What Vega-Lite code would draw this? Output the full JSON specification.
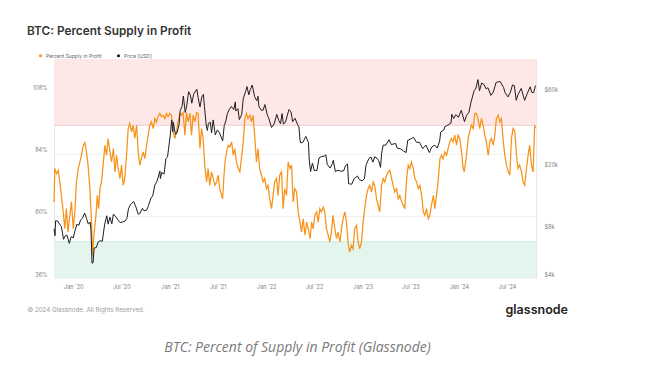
{
  "$schema": "https://vega.github.io/schema/vega-lite/v6.json",
  "width": 482,
  "height": 219,
  "autosize": {"type": "none"},
  "padding": {"left": 54, "top": 59, "right": 109, "bottom": 96},
  "background": "white",
  "title": {"text": "BTC: Percent Supply in Profit", "anchor": "start", "frame": "group", "dx": -27, "offset": 15, "font": "Inter", "fontSize": 11.8, "fontWeight": 600, "color": "#333333"},
  "config": {
    "view": {"stroke": "#e6e6e6"},
    "axis": {"domain": false, "ticks": false, "labelFont": "Inter", "labelFontSize": 5.5, "labelColor": "#808080"}
  },
  "datasets": {
    "zones": [
      {"zone": "overheated", "lo": 95, "hi": 120.6, "edge": 95},
      {"zone": "capitulation", "lo": 36, "hi": 50, "edge": 50}
    ],
    "supply": [
      {"date": "2019-10-20", "v": 65.4}, {"date": "2019-10-23", "v": 78.3}, {"date": "2019-10-30", "v": 76.3}, {"date": "2019-11-05", "v": 77.6},
      {"date": "2019-11-11", "v": 73.1}, {"date": "2019-11-17", "v": 67.9}, {"date": "2019-11-24", "v": 61.5}, {"date": "2019-11-30", "v": 55.0},
      {"date": "2019-12-06", "v": 62.8}, {"date": "2019-12-12", "v": 53.7}, {"date": "2019-12-19", "v": 60.2}, {"date": "2019-12-25", "v": 65.4},
      {"date": "2020-01-01", "v": 55.0}, {"date": "2020-01-07", "v": 61.5}, {"date": "2020-01-13", "v": 73.1}, {"date": "2020-01-20", "v": 78.3},
      {"date": "2020-01-26", "v": 80.8}, {"date": "2020-02-01", "v": 83.4}, {"date": "2020-02-08", "v": 87.3}, {"date": "2020-02-14", "v": 88.3},
      {"date": "2020-02-20", "v": 84.7}, {"date": "2020-02-26", "v": 79.6}, {"date": "2020-03-04", "v": 70.5}, {"date": "2020-03-09", "v": 60.2},
      {"date": "2020-03-14", "v": 44.7}, {"date": "2020-03-19", "v": 52.5}, {"date": "2020-03-27", "v": 60.2}, {"date": "2020-04-01", "v": 67.9},
      {"date": "2020-04-06", "v": 62.8}, {"date": "2020-04-11", "v": 70.5}, {"date": "2020-04-17", "v": 73.1}, {"date": "2020-04-23", "v": 79.6},
      {"date": "2020-04-30", "v": 87.3}, {"date": "2020-05-06", "v": 83.4}, {"date": "2020-05-12", "v": 89.9}, {"date": "2020-05-19", "v": 84.7},
      {"date": "2020-05-25", "v": 80.8}, {"date": "2020-06-01", "v": 86.0}, {"date": "2020-06-07", "v": 77.0}, {"date": "2020-06-13", "v": 83.4},
      {"date": "2020-06-19", "v": 78.3}, {"date": "2020-06-26", "v": 74.4}, {"date": "2020-07-02", "v": 79.6}, {"date": "2020-07-08", "v": 71.8},
      {"date": "2020-07-14", "v": 74.4}, {"date": "2020-07-21", "v": 83.4}, {"date": "2020-07-27", "v": 93.7}, {"date": "2020-08-02", "v": 95.7},
      {"date": "2020-08-09", "v": 92.5}, {"date": "2020-08-15", "v": 95.0}, {"date": "2020-08-21", "v": 89.9}, {"date": "2020-08-28", "v": 95.0},
      {"date": "2020-09-03", "v": 84.7}, {"date": "2020-09-09", "v": 79.6}, {"date": "2020-09-15", "v": 82.1}, {"date": "2020-09-22", "v": 84.7},
      {"date": "2020-09-28", "v": 82.1}, {"date": "2020-10-05", "v": 87.3}, {"date": "2020-10-11", "v": 91.2}, {"date": "2020-10-17", "v": 95.0},
      {"date": "2020-10-23", "v": 96.3}, {"date": "2020-10-30", "v": 93.7}, {"date": "2020-11-05", "v": 97.6}, {"date": "2020-11-11", "v": 96.3},
      {"date": "2020-11-17", "v": 98.3}, {"date": "2020-11-24", "v": 99.6}, {"date": "2020-11-30", "v": 98.3}, {"date": "2020-12-06", "v": 98.9},
      {"date": "2020-12-13", "v": 97.6}, {"date": "2020-12-19", "v": 99.6}, {"date": "2020-12-25", "v": 98.3}, {"date": "2021-01-01", "v": 99.6},
      {"date": "2021-01-07", "v": 98.9}, {"date": "2021-01-13", "v": 92.5}, {"date": "2021-01-20", "v": 89.9}, {"date": "2021-01-26", "v": 92.5},
      {"date": "2021-02-01", "v": 96.3}, {"date": "2021-02-08", "v": 99.6}, {"date": "2021-02-14", "v": 98.9}, {"date": "2021-02-20", "v": 99.9},
      {"date": "2021-02-27", "v": 91.2}, {"date": "2021-03-05", "v": 99.9}, {"date": "2021-03-11", "v": 96.3}, {"date": "2021-03-18", "v": 99.6},
      {"date": "2021-03-24", "v": 91.2}, {"date": "2021-03-30", "v": 98.9}, {"date": "2021-04-06", "v": 96.3}, {"date": "2021-04-12", "v": 99.9},
      {"date": "2021-04-18", "v": 99.6}, {"date": "2021-04-25", "v": 86.0}, {"date": "2021-05-01", "v": 93.7}, {"date": "2021-05-07", "v": 89.9},
      {"date": "2021-05-13", "v": 79.6}, {"date": "2021-05-20", "v": 73.1}, {"date": "2021-05-26", "v": 78.3}, {"date": "2021-06-01", "v": 71.8},
      {"date": "2021-06-08", "v": 77.0}, {"date": "2021-06-14", "v": 74.4}, {"date": "2021-06-21", "v": 71.8}, {"date": "2021-06-27", "v": 73.1},
      {"date": "2021-07-03", "v": 75.7}, {"date": "2021-07-09", "v": 70.5}, {"date": "2021-07-16", "v": 67.9}, {"date": "2021-07-20", "v": 66.6},
      {"date": "2021-07-25", "v": 75.7}, {"date": "2021-07-29", "v": 80.8}, {"date": "2021-08-04", "v": 84.7}, {"date": "2021-08-10", "v": 87.3},
      {"date": "2021-08-16", "v": 86.6}, {"date": "2021-08-23", "v": 88.6}, {"date": "2021-08-29", "v": 83.4}, {"date": "2021-09-04", "v": 86.0},
      {"date": "2021-09-10", "v": 80.8}, {"date": "2021-09-17", "v": 78.3}, {"date": "2021-09-23", "v": 77.0}, {"date": "2021-09-29", "v": 82.1},
      {"date": "2021-10-06", "v": 88.6}, {"date": "2021-10-12", "v": 97.6}, {"date": "2021-10-18", "v": 99.6}, {"date": "2021-10-24", "v": 97.6},
      {"date": "2021-10-31", "v": 98.9}, {"date": "2021-11-06", "v": 96.3}, {"date": "2021-11-12", "v": 98.9}, {"date": "2021-11-19", "v": 89.9},
      {"date": "2021-11-25", "v": 80.8}, {"date": "2021-12-01", "v": 86.0}, {"date": "2021-12-07", "v": 78.3}, {"date": "2021-12-14", "v": 75.7},
      {"date": "2021-12-20", "v": 73.1}, {"date": "2021-12-26", "v": 74.4}, {"date": "2022-01-02", "v": 70.5}, {"date": "2022-01-08", "v": 71.8},
      {"date": "2022-01-14", "v": 66.6}, {"date": "2022-01-21", "v": 62.8}, {"date": "2022-01-27", "v": 67.9}, {"date": "2022-02-02", "v": 73.1},
      {"date": "2022-02-09", "v": 74.4}, {"date": "2022-02-15", "v": 67.9}, {"date": "2022-02-21", "v": 75.7}, {"date": "2022-02-28", "v": 77.0},
      {"date": "2022-03-06", "v": 62.8}, {"date": "2022-03-12", "v": 70.5}, {"date": "2022-03-19", "v": 67.9}, {"date": "2022-03-25", "v": 80.8},
      {"date": "2022-04-01", "v": 78.3}, {"date": "2022-04-07", "v": 79.6}, {"date": "2022-04-13", "v": 65.4}, {"date": "2022-04-19", "v": 70.5},
      {"date": "2022-04-26", "v": 69.2}, {"date": "2022-05-02", "v": 61.5}, {"date": "2022-05-09", "v": 57.6}, {"date": "2022-05-15", "v": 53.7},
      {"date": "2022-05-21", "v": 58.9}, {"date": "2022-05-28", "v": 52.5}, {"date": "2022-06-03", "v": 57.6}, {"date": "2022-06-09", "v": 55.0},
      {"date": "2022-06-16", "v": 51.2}, {"date": "2022-06-22", "v": 57.6}, {"date": "2022-06-28", "v": 55.0}, {"date": "2022-07-04", "v": 60.2},
      {"date": "2022-07-11", "v": 61.5}, {"date": "2022-07-17", "v": 57.6}, {"date": "2022-07-23", "v": 62.8}, {"date": "2022-07-29", "v": 61.5},
      {"date": "2022-08-05", "v": 63.4}, {"date": "2022-08-11", "v": 61.5}, {"date": "2022-08-17", "v": 55.0}, {"date": "2022-08-24", "v": 52.5},
      {"date": "2022-08-30", "v": 49.9}, {"date": "2022-09-05", "v": 53.7}, {"date": "2022-09-11", "v": 60.2}, {"date": "2022-09-18", "v": 55.0},
      {"date": "2022-09-24", "v": 51.2}, {"date": "2022-09-30", "v": 53.7}, {"date": "2022-10-07", "v": 49.9}, {"date": "2022-10-13", "v": 55.0},
      {"date": "2022-10-19", "v": 58.9}, {"date": "2022-10-26", "v": 61.5}, {"date": "2022-11-01", "v": 57.6}, {"date": "2022-11-07", "v": 49.9},
      {"date": "2022-11-13", "v": 46.0}, {"date": "2022-11-20", "v": 48.6}, {"date": "2022-11-26", "v": 47.3}, {"date": "2022-12-02", "v": 55.0},
      {"date": "2022-12-09", "v": 56.3}, {"date": "2022-12-15", "v": 49.9}, {"date": "2022-12-21", "v": 47.3}, {"date": "2022-12-28", "v": 49.9},
      {"date": "2023-01-03", "v": 57.6}, {"date": "2023-01-09", "v": 62.8}, {"date": "2023-01-16", "v": 67.9}, {"date": "2023-01-22", "v": 70.5},
      {"date": "2023-01-28", "v": 71.8}, {"date": "2023-02-04", "v": 69.2}, {"date": "2023-02-10", "v": 73.1}, {"date": "2023-02-16", "v": 71.8},
      {"date": "2023-02-23", "v": 66.6}, {"date": "2023-03-01", "v": 64.1}, {"date": "2023-03-07", "v": 61.5}, {"date": "2023-03-14", "v": 71.8},
      {"date": "2023-03-20", "v": 74.4}, {"date": "2023-03-26", "v": 73.1}, {"date": "2023-04-02", "v": 75.7}, {"date": "2023-04-08", "v": 77.0},
      {"date": "2023-04-14", "v": 77.6}, {"date": "2023-04-21", "v": 74.4}, {"date": "2023-04-27", "v": 71.8}, {"date": "2023-05-03", "v": 69.2},
      {"date": "2023-05-10", "v": 70.5}, {"date": "2023-05-16", "v": 66.6}, {"date": "2023-05-22", "v": 67.9}, {"date": "2023-05-29", "v": 65.4},
      {"date": "2023-06-04", "v": 64.1}, {"date": "2023-06-10", "v": 62.8}, {"date": "2023-06-17", "v": 74.4}, {"date": "2023-06-23", "v": 79.6},
      {"date": "2023-06-29", "v": 78.3}, {"date": "2023-07-05", "v": 80.8}, {"date": "2023-07-12", "v": 78.3}, {"date": "2023-07-18", "v": 74.4},
      {"date": "2023-07-25", "v": 73.1}, {"date": "2023-07-31", "v": 70.5}, {"date": "2023-08-06", "v": 71.8}, {"date": "2023-08-13", "v": 67.9},
      {"date": "2023-08-19", "v": 61.5}, {"date": "2023-08-25", "v": 60.2}, {"date": "2023-08-31", "v": 62.8}, {"date": "2023-09-07", "v": 58.9},
      {"date": "2023-09-13", "v": 60.2}, {"date": "2023-09-19", "v": 64.1}, {"date": "2023-09-26", "v": 67.9}, {"date": "2023-10-02", "v": 62.8},
      {"date": "2023-10-08", "v": 67.9}, {"date": "2023-10-14", "v": 73.1}, {"date": "2023-10-21", "v": 82.1}, {"date": "2023-10-27", "v": 83.4},
      {"date": "2023-11-02", "v": 82.1}, {"date": "2023-11-09", "v": 84.7}, {"date": "2023-11-15", "v": 83.4}, {"date": "2023-11-21", "v": 86.0},
      {"date": "2023-11-28", "v": 88.6}, {"date": "2023-12-04", "v": 89.9}, {"date": "2023-12-10", "v": 88.6}, {"date": "2023-12-16", "v": 91.2},
      {"date": "2023-12-23", "v": 87.3}, {"date": "2023-12-29", "v": 91.2}, {"date": "2024-01-04", "v": 89.9}, {"date": "2024-01-11", "v": 84.7},
      {"date": "2024-01-17", "v": 78.3}, {"date": "2024-01-21", "v": 77.0}, {"date": "2024-01-30", "v": 83.4}, {"date": "2024-02-05", "v": 89.9},
      {"date": "2024-02-11", "v": 92.5}, {"date": "2024-02-17", "v": 95.0}, {"date": "2024-02-24", "v": 93.7}, {"date": "2024-03-01", "v": 99.6},
      {"date": "2024-03-07", "v": 99.6}, {"date": "2024-03-13", "v": 97.6}, {"date": "2024-03-20", "v": 93.7}, {"date": "2024-03-26", "v": 97.6},
      {"date": "2024-04-02", "v": 95.0}, {"date": "2024-04-08", "v": 91.2}, {"date": "2024-04-14", "v": 88.6}, {"date": "2024-04-21", "v": 83.4},
      {"date": "2024-04-27", "v": 88.6}, {"date": "2024-05-03", "v": 89.9}, {"date": "2024-05-10", "v": 87.3}, {"date": "2024-05-16", "v": 91.2},
      {"date": "2024-05-22", "v": 97.6}, {"date": "2024-05-29", "v": 98.9}, {"date": "2024-06-04", "v": 96.3}, {"date": "2024-06-10", "v": 97.6},
      {"date": "2024-06-17", "v": 88.6}, {"date": "2024-06-23", "v": 83.4}, {"date": "2024-06-29", "v": 79.6}, {"date": "2024-07-06", "v": 77.0},
      {"date": "2024-07-12", "v": 75.7}, {"date": "2024-07-18", "v": 89.9}, {"date": "2024-07-24", "v": 93.7}, {"date": "2024-07-31", "v": 92.5},
      {"date": "2024-08-06", "v": 83.4}, {"date": "2024-08-12", "v": 78.3}, {"date": "2024-08-18", "v": 79.6}, {"date": "2024-08-25", "v": 77.0},
      {"date": "2024-08-31", "v": 73.1}, {"date": "2024-09-06", "v": 71.8}, {"date": "2024-09-13", "v": 78.3}, {"date": "2024-09-19", "v": 83.4},
      {"date": "2024-09-25", "v": 87.3}, {"date": "2024-10-02", "v": 79.6}, {"date": "2024-10-08", "v": 77.0}, {"date": "2024-10-14", "v": 95.0},
      {"date": "2024-10-17", "v": 94.0}
    ],
    "price": [
      {"date": "2019-10-20", "p": 8220}, {"date": "2019-10-24", "p": 7430}, {"date": "2019-10-26", "p": 9250}, {"date": "2019-11-03", "p": 9200},
      {"date": "2019-11-10", "p": 8800}, {"date": "2019-11-17", "p": 8500}, {"date": "2019-11-25", "p": 7050}, {"date": "2019-12-01", "p": 7400},
      {"date": "2019-12-08", "p": 7500}, {"date": "2019-12-17", "p": 6640}, {"date": "2019-12-24", "p": 7320}, {"date": "2020-01-01", "p": 7200},
      {"date": "2020-01-08", "p": 8050}, {"date": "2020-01-15", "p": 8800}, {"date": "2020-01-22", "p": 8650}, {"date": "2020-01-29", "p": 9380},
      {"date": "2020-02-05", "p": 9600}, {"date": "2020-02-13", "p": 10350}, {"date": "2020-02-20", "p": 9600}, {"date": "2020-02-27", "p": 8800},
      {"date": "2020-03-05", "p": 9080}, {"date": "2020-03-08", "p": 8100}, {"date": "2020-03-12", "p": 4970}, {"date": "2020-03-16", "p": 5000},
      {"date": "2020-03-20", "p": 6200}, {"date": "2020-03-28", "p": 6250}, {"date": "2020-04-05", "p": 6800}, {"date": "2020-04-12", "p": 6900},
      {"date": "2020-04-20", "p": 6850}, {"date": "2020-04-29", "p": 8800}, {"date": "2020-05-07", "p": 9950}, {"date": "2020-05-12", "p": 8800},
      {"date": "2020-05-19", "p": 9750}, {"date": "2020-05-26", "p": 8840}, {"date": "2020-06-01", "p": 10200}, {"date": "2020-06-10", "p": 9800},
      {"date": "2020-06-20", "p": 9300}, {"date": "2020-06-27", "p": 9000}, {"date": "2020-07-05", "p": 9070}, {"date": "2020-07-15", "p": 9200},
      {"date": "2020-07-22", "p": 9550}, {"date": "2020-07-28", "p": 11000}, {"date": "2020-08-05", "p": 11750}, {"date": "2020-08-17", "p": 12250},
      {"date": "2020-08-25", "p": 11350}, {"date": "2020-09-03", "p": 10200}, {"date": "2020-09-09", "p": 10250}, {"date": "2020-09-19", "p": 11100},
      {"date": "2020-09-25", "p": 10700}, {"date": "2020-10-05", "p": 10800}, {"date": "2020-10-12", "p": 11550}, {"date": "2020-10-21", "p": 12900},
      {"date": "2020-10-28", "p": 13300}, {"date": "2020-11-05", "p": 15600}, {"date": "2020-11-12", "p": 16300}, {"date": "2020-11-19", "p": 17800},
      {"date": "2020-11-24", "p": 19150}, {"date": "2020-11-26", "p": 17150}, {"date": "2020-12-01", "p": 18800}, {"date": "2020-12-10", "p": 18300},
      {"date": "2020-12-17", "p": 23000}, {"date": "2020-12-23", "p": 23500}, {"date": "2020-12-27", "p": 26500}, {"date": "2021-01-02", "p": 32000},
      {"date": "2021-01-08", "p": 40500}, {"date": "2021-01-12", "p": 34000}, {"date": "2021-01-14", "p": 39200}, {"date": "2021-01-22", "p": 32800},
      {"date": "2021-01-28", "p": 33400}, {"date": "2021-02-05", "p": 38000}, {"date": "2021-02-09", "p": 46400}, {"date": "2021-02-16", "p": 49200},
      {"date": "2021-02-21", "p": 57500}, {"date": "2021-02-28", "p": 45200}, {"date": "2021-03-05", "p": 48800}, {"date": "2021-03-13", "p": 61200},
      {"date": "2021-03-20", "p": 58100}, {"date": "2021-03-25", "p": 51700}, {"date": "2021-04-01", "p": 59000}, {"date": "2021-04-13", "p": 63500},
      {"date": "2021-04-18", "p": 56200}, {"date": "2021-04-25", "p": 49000}, {"date": "2021-05-02", "p": 56600}, {"date": "2021-05-08", "p": 58800},
      {"date": "2021-05-12", "p": 49200}, {"date": "2021-05-19", "p": 37000}, {"date": "2021-05-23", "p": 34700}, {"date": "2021-05-27", "p": 38500},
      {"date": "2021-06-03", "p": 39200}, {"date": "2021-06-08", "p": 33500}, {"date": "2021-06-14", "p": 40500}, {"date": "2021-06-22", "p": 32500},
      {"date": "2021-06-30", "p": 35000}, {"date": "2021-07-07", "p": 33800}, {"date": "2021-07-20", "p": 29800}, {"date": "2021-07-26", "p": 37300},
      {"date": "2021-08-01", "p": 39900}, {"date": "2021-08-07", "p": 44600}, {"date": "2021-08-14", "p": 47100}, {"date": "2021-08-22", "p": 49300},
      {"date": "2021-08-31", "p": 47100}, {"date": "2021-09-06", "p": 52700}, {"date": "2021-09-08", "p": 46100}, {"date": "2021-09-16", "p": 47700},
      {"date": "2021-09-21", "p": 40700}, {"date": "2021-09-30", "p": 43800}, {"date": "2021-10-06", "p": 55300}, {"date": "2021-10-15", "p": 61500},
      {"date": "2021-10-20", "p": 66000}, {"date": "2021-10-27", "p": 58500}, {"date": "2021-11-02", "p": 63200}, {"date": "2021-11-09", "p": 67500},
      {"date": "2021-11-18", "p": 56900}, {"date": "2021-11-26", "p": 53600}, {"date": "2021-12-01", "p": 57200}, {"date": "2021-12-04", "p": 49400},
      {"date": "2021-12-13", "p": 46700}, {"date": "2021-12-20", "p": 46700}, {"date": "2021-12-27", "p": 50700}, {"date": "2022-01-05", "p": 43500},
      {"date": "2022-01-10", "p": 41800}, {"date": "2022-01-21", "p": 36300}, {"date": "2022-01-24", "p": 36650}, {"date": "2022-02-01", "p": 38700},
      {"date": "2022-02-10", "p": 43900}, {"date": "2022-02-18", "p": 40000}, {"date": "2022-02-24", "p": 38300}, {"date": "2022-03-02", "p": 44400},
      {"date": "2022-03-07", "p": 38000}, {"date": "2022-03-15", "p": 39300}, {"date": "2022-03-28", "p": 47100}, {"date": "2022-04-05", "p": 45500},
      {"date": "2022-04-11", "p": 39500}, {"date": "2022-04-20", "p": 41500}, {"date": "2022-04-30", "p": 37700}, {"date": "2022-05-05", "p": 36500},
      {"date": "2022-05-09", "p": 30100}, {"date": "2022-05-12", "p": 28900}, {"date": "2022-05-20", "p": 29200}, {"date": "2022-05-31", "p": 31800},
      {"date": "2022-06-10", "p": 29100}, {"date": "2022-06-13", "p": 22500}, {"date": "2022-06-18", "p": 19000}, {"date": "2022-06-25", "p": 21500},
      {"date": "2022-07-02", "p": 19300}, {"date": "2022-07-12", "p": 19300}, {"date": "2022-07-20", "p": 23200}, {"date": "2022-07-30", "p": 23700},
      {"date": "2022-08-10", "p": 23900}, {"date": "2022-08-15", "p": 24300}, {"date": "2022-08-20", "p": 21100}, {"date": "2022-08-31", "p": 20000},
      {"date": "2022-09-09", "p": 21400}, {"date": "2022-09-12", "p": 22400}, {"date": "2022-09-20", "p": 19000}, {"date": "2022-09-30", "p": 19400},
      {"date": "2022-10-10", "p": 19100}, {"date": "2022-10-21", "p": 19200}, {"date": "2022-10-29", "p": 20800}, {"date": "2022-11-05", "p": 21200},
      {"date": "2022-11-09", "p": 15900}, {"date": "2022-11-21", "p": 15800}, {"date": "2022-11-30", "p": 17150}, {"date": "2022-12-13", "p": 17800},
      {"date": "2022-12-20", "p": 16900}, {"date": "2022-12-30", "p": 16550}, {"date": "2023-01-08", "p": 17100}, {"date": "2023-01-14", "p": 20900},
      {"date": "2023-01-25", "p": 23000}, {"date": "2023-02-02", "p": 23500}, {"date": "2023-02-09", "p": 21800}, {"date": "2023-02-16", "p": 23600},
      {"date": "2023-02-25", "p": 23100}, {"date": "2023-03-03", "p": 22300}, {"date": "2023-03-10", "p": 20200}, {"date": "2023-03-14", "p": 24700},
      {"date": "2023-03-20", "p": 28000}, {"date": "2023-03-30", "p": 28000}, {"date": "2023-04-11", "p": 30300}, {"date": "2023-04-20", "p": 28200},
      {"date": "2023-04-26", "p": 28400}, {"date": "2023-05-06", "p": 28700}, {"date": "2023-05-12", "p": 26800}, {"date": "2023-05-25", "p": 26500},
      {"date": "2023-06-05", "p": 25700}, {"date": "2023-06-15", "p": 25100}, {"date": "2023-06-21", "p": 30000}, {"date": "2023-06-30", "p": 30500},
      {"date": "2023-07-13", "p": 31400}, {"date": "2023-07-24", "p": 29200}, {"date": "2023-08-05", "p": 29100}, {"date": "2023-08-17", "p": 26600},
      {"date": "2023-08-29", "p": 28000}, {"date": "2023-09-11", "p": 25100}, {"date": "2023-09-20", "p": 27200}, {"date": "2023-10-01", "p": 28000},
      {"date": "2023-10-11", "p": 26800}, {"date": "2023-10-20", "p": 29700}, {"date": "2023-10-24", "p": 33900}, {"date": "2023-11-05", "p": 35000},
      {"date": "2023-11-09", "p": 36700}, {"date": "2023-11-20", "p": 37500}, {"date": "2023-12-02", "p": 38700}, {"date": "2023-12-05", "p": 44000},
      {"date": "2023-12-12", "p": 41300}, {"date": "2023-12-20", "p": 43700}, {"date": "2023-12-30", "p": 42100}, {"date": "2024-01-10", "p": 46600},
      {"date": "2024-01-22", "p": 39500}, {"date": "2024-01-30", "p": 43300}, {"date": "2024-02-08", "p": 45300}, {"date": "2024-02-15", "p": 51900},
      {"date": "2024-02-28", "p": 62500}, {"date": "2024-03-05", "p": 63800}, {"date": "2024-03-13", "p": 73100}, {"date": "2024-03-19", "p": 62000},
      {"date": "2024-03-27", "p": 69500}, {"date": "2024-04-05", "p": 68000}, {"date": "2024-04-13", "p": 63800}, {"date": "2024-04-20", "p": 64900},
      {"date": "2024-05-01", "p": 58000}, {"date": "2024-05-10", "p": 60800}, {"date": "2024-05-21", "p": 70200}, {"date": "2024-06-05", "p": 71100},
      {"date": "2024-06-18", "p": 65200}, {"date": "2024-06-24", "p": 60300}, {"date": "2024-07-05", "p": 56700}, {"date": "2024-07-14", "p": 60800},
      {"date": "2024-07-22", "p": 67600}, {"date": "2024-07-29", "p": 66800}, {"date": "2024-08-05", "p": 54000}, {"date": "2024-08-12", "p": 58700},
      {"date": "2024-08-24", "p": 64200}, {"date": "2024-09-06", "p": 53900}, {"date": "2024-09-15", "p": 59100}, {"date": "2024-09-27", "p": 65800},
      {"date": "2024-10-03", "p": 60600}, {"date": "2024-10-10", "p": 60300}, {"date": "2024-10-17", "p": 67000}
    ]
  },
  "layer": [
    {
      "layer": [
        {
          "data": {"name": "zones"},
          "mark": {"type": "rect"},
          "encoding": {
            "y": {"field": "lo", "type": "quantitative", "scale": {"domain": [36, 120.6], "nice": false, "zero": false},
              "axis": {"orient": "left", "values": [36, 60, 84, 108], "labelExpr": "datum.value + '%'", "grid": true, "gridColor": "#f1f1f1", "labelPadding": 7, "labelBaseline": "bottom", "labelOffset": -1,
                "title": "© 2024 Glassnode. All Rights Reserved.", "titleAngle": 0, "titleX": -27, "titleY": 250, "titleAlign": "left", "titleBaseline": "middle", "titleFont": "Inter", "titleFontSize": 6.2, "titleFontWeight": "normal", "titleColor": "#9a9a9a"}},
            "y2": {"field": "hi"},
            "fill": {"field": "zone", "type": "nominal", "scale": {"domain": ["overheated", "capitulation"], "range": ["#fde7e7", "#e4f5ee"]}, "legend": null}
          }
        },
        {
          "data": {"name": "zones"},
          "mark": {"type": "rule", "strokeWidth": 1},
          "encoding": {
            "y": {"field": "edge", "type": "quantitative"},
            "stroke": {"field": "zone", "type": "nominal", "scale": {"domain": ["overheated", "capitulation"], "range": ["#f3caca", "#c6eadb"]}, "legend": null}
          }
        },
        {
          "data": {"name": "supply"},
          "mark": {"type": "line", "strokeWidth": 1.25, "interpolate": "linear"},
          "encoding": {
            "x": {"field": "date", "type": "temporal", "scale": {"domain": ["2019-10-20", "2024-10-19"], "nice": false},
              "axis": {"values": [{"year": 2020, "month": 1, "date": 1}, {"year": 2020, "month": 7, "date": 1}, {"year": 2021, "month": 1, "date": 1}, {"year": 2021, "month": 7, "date": 1}, {"year": 2022, "month": 1, "date": 1}, {"year": 2022, "month": 7, "date": 1}, {"year": 2023, "month": 1, "date": 1}, {"year": 2023, "month": 7, "date": 1}, {"year": 2024, "month": 1, "date": 1}, {"year": 2024, "month": 7, "date": 1}],
                "format": "%b '%y", "grid": false, "labelPadding": 6,
                "title": "BTC: Percent of Supply in Profit (Glassnode)", "titleX": 243, "titleY": 69, "titleAlign": "center", "titleBaseline": "middle", "titleFont": "Open Sans", "titleFontStyle": "italic", "titleFontSize": 14, "titleFontWeight": "normal", "titleColor": "#7a7a7a"}},
            "y": {"field": "v", "type": "quantitative"},
            "color": {"datum": "Percent Supply in Profit", "type": "nominal",
              "scale": {"domain": ["Percent Supply in Profit", "Price [USD]"], "range": ["#f7931a", "#1e1e1e"]},
              "legend": {"orient": "none", "legendX": -16, "legendY": -6, "direction": "horizontal", "title": null, "symbolType": "circle", "symbolSize": 10, "symbolStrokeWidth": 0, "labelFont": "Inter", "labelFontSize": 5, "labelColor": "#666666", "columnPadding": 14, "labelOffset": 3,
                "encode": {"symbols": {"update": {"fill": {"scale": "color", "field": "value"}, "strokeWidth": {"value": 0}}}}}}
          }
        }
      ]
    },
    {
      "data": {"name": "price"},
      "mark": {"type": "line", "strokeWidth": 1, "interpolate": "linear"},
      "encoding": {
        "x": {"field": "date", "type": "temporal"},
        "y": {"field": "p", "type": "quantitative", "scale": {"type": "log", "domain": [4000, 98800], "nice": false, "zero": false},
          "axis": {"orient": "right", "values": [4000, 8000, 20000, 60000], "labelExpr": "'$' + (datum.value / 1000) + 'k'", "grid": false, "labelPadding": 8, "labelBaseline": "bottom", "labelOffset": -1,
            "title": "glassnode", "titleAngle": 0, "titleX": -31, "titleY": 250, "titleAlign": "left", "titleBaseline": "middle", "titleFont": "Inter", "titleFontSize": 12.5, "titleFontWeight": 600, "titleColor": "#222222"}},
        "color": {"datum": "Price [USD]", "type": "nominal"}
      }
    }
  ],
  "resolve": {"scale": {"y": "independent"}}
}
